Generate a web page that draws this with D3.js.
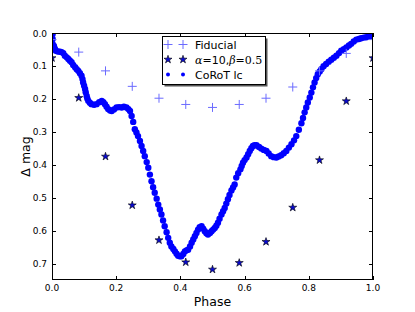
<!DOCTYPE html>
<html>
<head>
<meta charset="utf-8">
<script src="https://cdn.jsdelivr.net/npm/d3@7"></script>
<style>
  body { margin: 0; background: #fff; }
  text { font-family: "DejaVu Sans", sans-serif; }
</style>
</head>
<body>
<div id="chart"></div>
<script>
const width = 415;
const height = 312;

// model phases (twelfths)
const modelPhase = [0, 0.0833, 0.1667, 0.25, 0.3333, 0.4167, 0.5, 0.5833, 0.6667, 0.75, 0.8333, 0.9167, 1.0];
const fiducialMag = [0.02, 0.058, 0.115, 0.162, 0.198, 0.217, 0.226, 0.217, 0.198, 0.164, 0.115, 0.062, 0.02];
const starMag = [0.076, 0.197, 0.375, 0.523, 0.629, 0.696, 0.718, 0.698, 0.634, 0.53, 0.386, 0.207, 0.076];

// CoRoT light curve
const lcPhase = [0.002, 0.002, 0.002, 0.006, 0.009, 0.012, 0.018, 0.025, 0.03, 0.035, 0.04, 0.046, 0.051, 0.056,
  0.061, 0.066, 0.072, 0.077, 0.082, 0.087, 0.092, 0.095, 0.097, 0.1, 0.103, 0.105, 0.108, 0.11, 0.113, 0.118,
  0.123, 0.131, 0.139, 0.147, 0.155, 0.16, 0.165, 0.17, 0.175, 0.181, 0.186, 0.193, 0.201, 0.209, 0.217, 0.224,
  0.232, 0.238, 0.243, 0.248, 0.253, 0.258, 0.263, 0.268, 0.274, 0.279, 0.284, 0.289, 0.295, 0.3, 0.305, 0.31,
  0.315, 0.32, 0.326, 0.331, 0.336, 0.341, 0.346, 0.351, 0.357, 0.362, 0.367, 0.372, 0.378, 0.383, 0.388, 0.393,
  0.398, 0.403, 0.409, 0.414, 0.419, 0.424, 0.43, 0.435, 0.44, 0.445, 0.45, 0.455, 0.46, 0.466, 0.471, 0.476,
  0.481, 0.486, 0.492, 0.497, 0.502, 0.507, 0.512, 0.517, 0.522, 0.528, 0.533, 0.538, 0.543, 0.548, 0.553, 0.559,
  0.564, 0.569, 0.574, 0.58, 0.587, 0.591, 0.595, 0.6, 0.606, 0.611, 0.616, 0.621, 0.626, 0.631, 0.637, 0.645,
  0.652, 0.66, 0.668, 0.675, 0.683, 0.691, 0.699, 0.706, 0.714, 0.722, 0.73, 0.738, 0.746, 0.754, 0.761, 0.769,
  0.777, 0.782, 0.787, 0.792, 0.797, 0.803, 0.808, 0.813, 0.818, 0.823, 0.828, 0.834, 0.839, 0.846, 0.854, 0.862,
  0.87, 0.878, 0.886, 0.894, 0.901, 0.909, 0.917, 0.925, 0.932, 0.94, 0.948, 0.956, 0.963, 0.971, 0.979, 0.986,
  0.994, 0.987];
const lcMag = [0.003, 0.018, 0.033, 0.039, 0.048, 0.054, 0.056, 0.057, 0.058, 0.061, 0.069, 0.074, 0.079, 0.084,
  0.089, 0.097, 0.104, 0.11, 0.115, 0.122, 0.13, 0.14, 0.15, 0.16, 0.17, 0.18, 0.191, 0.199, 0.206, 0.212,
  0.216, 0.218, 0.216, 0.21, 0.206, 0.21, 0.216, 0.224, 0.231, 0.235, 0.237, 0.232, 0.226, 0.225, 0.226, 0.224,
  0.226, 0.231, 0.237, 0.252, 0.27, 0.292, 0.302, 0.313, 0.328, 0.343, 0.358, 0.374, 0.392, 0.409, 0.43, 0.45,
  0.468, 0.485, 0.503, 0.521, 0.536, 0.551, 0.569, 0.587, 0.605, 0.622, 0.637, 0.648, 0.656, 0.663, 0.67, 0.676,
  0.678, 0.678, 0.671, 0.663, 0.66, 0.658, 0.648, 0.637, 0.627, 0.617, 0.607, 0.597, 0.59, 0.587, 0.594, 0.602,
  0.608, 0.612, 0.607, 0.602, 0.597, 0.592, 0.585, 0.576, 0.564, 0.551, 0.541, 0.531, 0.518, 0.505, 0.492, 0.478,
  0.469, 0.46, 0.439, 0.426, 0.414, 0.404, 0.394, 0.386, 0.378, 0.368, 0.358, 0.35, 0.343, 0.341, 0.341, 0.346,
  0.351, 0.355, 0.358, 0.366, 0.374, 0.377, 0.378, 0.375, 0.371, 0.365, 0.358, 0.348, 0.338, 0.326, 0.313, 0.294,
  0.274, 0.258, 0.241, 0.226, 0.211, 0.196, 0.181, 0.165, 0.15, 0.137, 0.125, 0.117, 0.11, 0.101, 0.094, 0.087,
  0.081, 0.075, 0.069, 0.061, 0.054, 0.049, 0.044, 0.038, 0.033, 0.026, 0.02, 0.018, 0.016, 0.014, 0.013, 0.011,
  0.01, 0.0];

const xTicks = [0, 0.2, 0.4, 0.6, 0.8, 1.0];
const yTicks = [0, 0.1, 0.2, 0.3, 0.4, 0.5, 0.6, 0.7];

const svg = d3.select('#chart').append('svg')
  .attr('width', width)
  .attr('height', height);

const x = d3.scaleLinear().domain([0, 1]).range([52, 373]);
const y = d3.scaleLinear().domain([0, 0.75]).range([33, 280]);

// clip to the axes
svg.append('clipPath').attr('id', 'clip')
  .append('rect').attr('x', 52).attr('y', 33).attr('width', 321).attr('height', 247);

const plot = svg.append('g').attr('clip-path', 'url(#clip)');

// CoRoT lc dots
plot.selectAll('circle.lc')
  .data(lcPhase.map((p, i) => [p, lcMag[i]]))
  .enter().append('circle')
  .attr('class', 'lc')
  .attr('cx', d => x(d[0]))
  .attr('cy', d => y(d[1]))
  .attr('r', 3.2)
  .attr('fill', '#0000ff');

// fiducial plus markers
const plusPath = 'M-4.5,0H4.5M0,-4.5V4.5';
plot.selectAll('path.fid')
  .data(modelPhase.map((p, i) => [p, fiducialMag[i]]))
  .enter().append('path')
  .attr('class', 'fid')
  .attr('d', plusPath)
  .attr('transform', d => `translate(${x(d[0])},${y(d[1])})`)
  .attr('stroke', '#6b6bff')
  .attr('stroke-width', 1)
  .attr('fill', 'none');

// alpha/beta model stars
const star = d3.symbol().type(d3.symbolStar).size(20);
plot.selectAll('path.star')
  .data(modelPhase.map((p, i) => [p, starMag[i]]))
  .enter().append('path')
  .attr('class', 'star')
  .attr('d', star)
  .attr('transform', d => `translate(${x(d[0])},${y(d[1])})`)
  .attr('fill', '#0a0ad0')
  .attr('stroke', '#000')
  .attr('stroke-width', 0.6);

// frame
svg.append('rect')
  .attr('x', 52.5).attr('y', 33.5).attr('width', 320).attr('height', 246)
  .attr('fill', 'none').attr('stroke', '#000').attr('stroke-width', 1);

// ticks pointing inward on all sides
const tickLen = 4;
const axes = svg.append('g').attr('stroke', '#000').attr('stroke-width', 1);
xTicks.forEach(t => {
  const px = Math.round(x(t)) + 0.5;
  axes.append('line').attr('x1', px).attr('x2', px).attr('y1', 280).attr('y2', 280 - tickLen);
  axes.append('line').attr('x1', px).attr('x2', px).attr('y1', 33).attr('y2', 33 + tickLen);
});
yTicks.forEach(t => {
  const py = Math.round(y(t)) + 0.5;
  axes.append('line').attr('x1', 52).attr('x2', 52 + tickLen).attr('y1', py).attr('y2', py);
  axes.append('line').attr('x1', 373).attr('x2', 373 - tickLen).attr('y1', py).attr('y2', py);
});

svg.selectAll('text.xt')
  .data(xTicks).enter().append('text')
  .attr('class', 'xt')
  .attr('x', d => x(d))
  .attr('y', 291)
  .attr('text-anchor', 'middle')
  .attr('font-size', 9)
  .text(d => d3.format('.1f')(d));

svg.selectAll('text.yt')
  .data(yTicks).enter().append('text')
  .attr('class', 'yt')
  .attr('x', 47)
  .attr('y', d => y(d) + 3.5)
  .attr('text-anchor', 'end')
  .attr('font-size', 9)
  .text(d => d3.format('.1f')(d));

svg.append('text')
  .attr('x', x(0.5)).attr('y', 306)
  .attr('text-anchor', 'middle')
  .attr('font-size', 12.5)
  .text('Phase');

svg.append('text')
  .attr('transform', `translate(30,${y(0.375)}) rotate(-90)`)
  .attr('text-anchor', 'middle')
  .attr('font-size', 12.5)
  .text('Δ mag');

// legend
const lg = svg.append('g');
lg.append('rect').attr('x', 164.5).attr('y', 38.5).attr('width', 103).attr('height', 48)
  .attr('fill', '#555');
lg.append('rect').attr('x', 162.5).attr('y', 36.5).attr('width', 103).attr('height', 48)
  .attr('fill', '#fff').attr('stroke', '#000').attr('stroke-width', 1);

const rows = [44.5, 59.5, 74.5];
[168, 183].forEach(mx => {
  lg.append('path').attr('d', plusPath)
    .attr('transform', `translate(${mx},${rows[0]})`)
    .attr('stroke', '#6b6bff').attr('fill', 'none');
  lg.append('path').attr('d', star)
    .attr('transform', `translate(${mx},${rows[1]})`)
    .attr('fill', '#0a0ad0').attr('stroke', '#000').attr('stroke-width', 0.6);
  lg.append('circle').attr('cx', mx).attr('cy', rows[2]).attr('r', 2)
    .attr('fill', '#0000ff');
});

lg.append('text').attr('x', 195).attr('y', rows[0] + 4).attr('font-size', 11).text('Fiducial');
const ab = lg.append('text').attr('x', 195).attr('y', rows[1] + 4).attr('font-size', 11);
ab.append('tspan').attr('font-family', 'DejaVu Serif').attr('font-style', 'italic').text('α');
ab.append('tspan').text('=10,');
ab.append('tspan').attr('font-family', 'DejaVu Serif').attr('font-style', 'italic').text('β');
ab.append('tspan').attr('font-family', 'DejaVu Serif').text('=0.5');
lg.append('text').attr('x', 195).attr('y', rows[2] + 4).attr('font-size', 11).text('CoRoT lc');
</script>
</body>
</html>
